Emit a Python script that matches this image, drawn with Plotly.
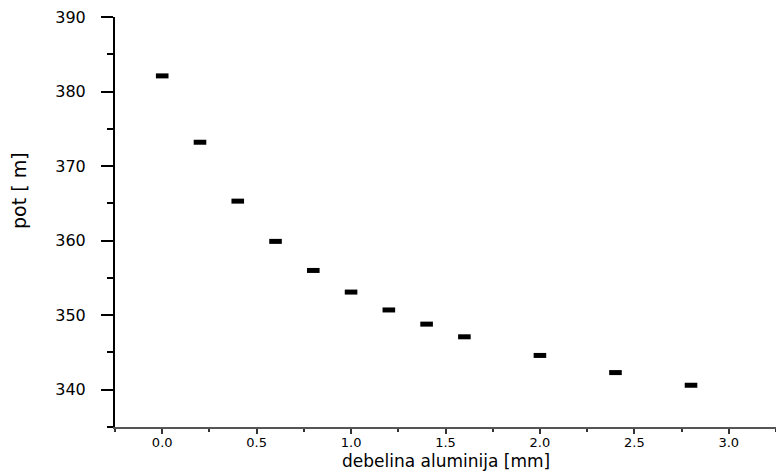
import plotly.graph_objects as go

thickness = [0.0, 0.2, 0.4, 0.6, 0.8, 1.0, 1.2, 1.4, 1.6, 2.0, 2.4, 2.8]
path = [382.1, 373.2, 365.3, 359.9, 356.0, 353.1, 350.7, 348.8, 347.1, 344.6, 342.3, 340.6]

x_ticks = [0.0, 0.5, 1.0, 1.5, 2.0, 2.5, 3.0]
x_ticklabels = ["0.0", "0.5", "1.0", "1.5", "2.0", "2.5", "3.0"]
y_ticks = [340, 350, 360, 370, 380, 390]

x_title = "debelina aluminija [mm]"
y_title = "pot [ m]"

fig = go.Figure()
fig.add_trace(go.Scatter(
    x=thickness, y=path, mode="markers",
    marker=dict(symbol="line-ew", size=9, color="black",
                line=dict(color="black", width=5)),
    showlegend=False,
))

font = "DejaVu Sans, Verdana, sans-serif"
fig.update_layout(
    width=776, height=472,
    margin=dict(l=115, r=0, t=17, b=45),
    paper_bgcolor="white", plot_bgcolor="white",
    font=dict(family=font, color="black"),
    xaxis=dict(
        range=[-0.25, 3.25], tickvals=x_ticks, ticktext=x_ticklabels,
        showgrid=False, zeroline=False,
        showline=True, linecolor="#555555", linewidth=2,
        ticks="outside", ticklen=5, tickwidth=2, tickcolor="#333333",
        minor=dict(dtick=0.25, ticks="outside", ticklen=3, tickwidth=2, tickcolor="#333333"),
        tickfont=dict(size=13, family=font),
        ticklabelstandoff=-3,
    ),
    yaxis=dict(
        range=[335, 390], tickvals=y_ticks,
        showgrid=False, zeroline=False,
        showline=True, linecolor="black", linewidth=2,
        ticks="outside", ticklen=12, tickwidth=1.5, tickcolor="black",
        minor=dict(dtick=5, ticks="outside", ticklen=6, tickwidth=1.5, tickcolor="black"),
        tickfont=dict(size=16, family=font),
        ticklabelstandoff=12,
    ),
    annotations=[
        dict(text=x_title, xref="paper", yref="paper", x=0.5, y=0, yshift=-45,
             xanchor="center", yanchor="bottom", showarrow=False, borderpad=0,
             font=dict(size=17, family=font, color="black")),
        dict(text=y_title, xref="paper", yref="paper", x=0, xshift=-96, y=0.5, yshift=31,
             xanchor="center", yanchor="middle", textangle=-90, showarrow=False,
             font=dict(size=19, family=font, color="black")),
    ],
)

fig.write_html("out.html")
